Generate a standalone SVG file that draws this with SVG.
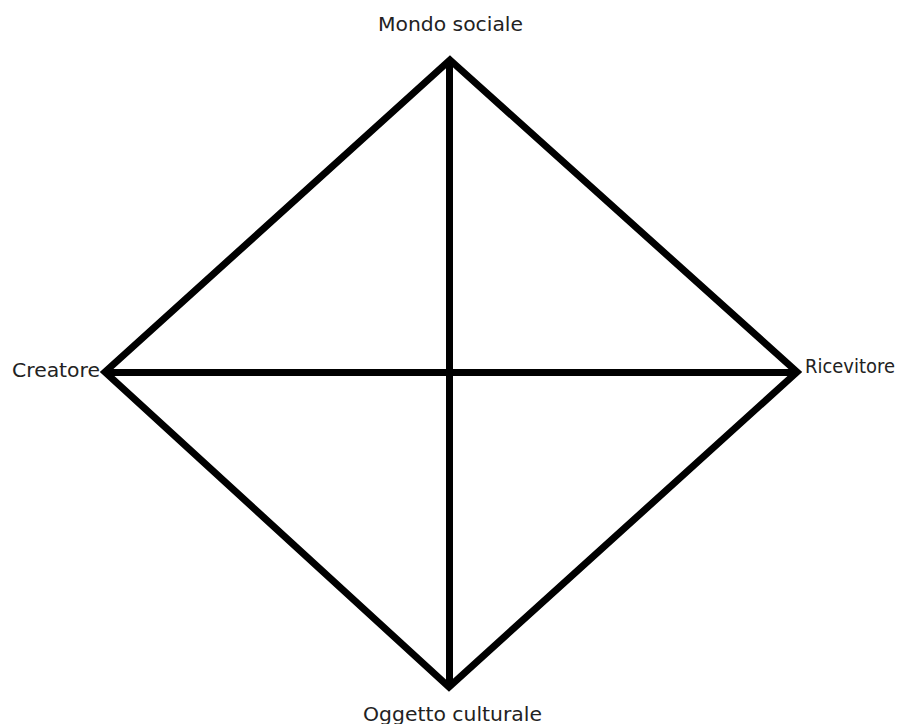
<svg xmlns="http://www.w3.org/2000/svg" width="906" height="724" viewBox="0 0 906 724">
<style>
.edge{fill:none;stroke:#000;stroke-width:7;stroke-linejoin:miter;stroke-linecap:butt}
.lbl{font-family:"DejaVu Sans",sans-serif;font-size:19px;fill:#222}
</style>
<rect width="906" height="724" fill="#fff"/>
<g id="connectors">
<polygon class="edge" points="450,60 797,372 449,687 105,372"/>
<line class="edge" x1="449.5" y1="60" x2="449.5" y2="687"/>
<line class="edge" x1="105" y1="372.5" x2="797" y2="372.5"/>
</g>
<g id="mondo-sociale"><text class="lbl" x="378" y="31" textLength="145" lengthAdjust="spacingAndGlyphs">Mondo sociale</text></g>
<g id="creatore"><text class="lbl" x="12" y="377" textLength="88" lengthAdjust="spacingAndGlyphs">Creatore</text></g>
<g id="ricevitore"><text class="lbl" x="805" y="373" textLength="90" lengthAdjust="spacingAndGlyphs">Ricevitore</text></g>
<g id="oggetto-culturale"><text class="lbl" x="363" y="721" textLength="179" lengthAdjust="spacingAndGlyphs">Oggetto culturale</text></g>
</svg>
